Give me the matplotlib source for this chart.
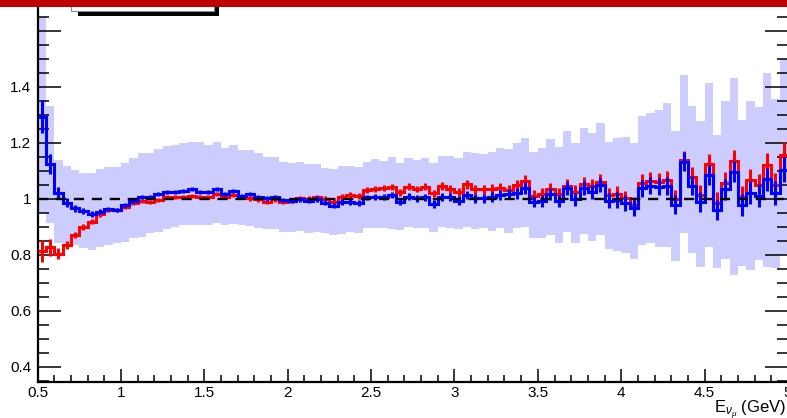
import matplotlib
matplotlib.use('Agg')
import numpy as np
import matplotlib.pyplot as plt
from matplotlib.patches import Rectangle
from matplotlib.ticker import MultipleLocator

plt.rcParams['font.family'] = ['Liberation Sans', 'DejaVu Sans']
plt.rcParams['mathtext.fontset'] = 'custom'
plt.rcParams['mathtext.rm'] = 'Liberation Sans'
plt.rcParams['mathtext.it'] = 'Liberation Sans:italic'

# Binning: 0.05 GeV bins from 0.5 to 5 GeV
e_min = 0.5
e_max = 5.0
n_bins = 90

# Ratio, red histogram
ratio_red = [0.815, 0.828, 0.805, 0.836, 0.871, 0.901, 0.919, 0.946, 0.960, 0.960,
             0.973, 0.985, 0.992, 0.990, 0.996, 1.006, 1.006, 1.008, 1.011, 1.008,
             1.008, 1.017, 1.006, 1.013, 1.006, 1.002, 0.999, 0.990, 0.999, 0.990,
             0.994, 1.002, 1.000, 1.006, 1.000, 0.990, 1.008, 1.014, 1.011, 1.032,
             1.036, 1.040, 1.042, 1.024, 1.044, 1.036, 1.044, 1.020, 1.046, 1.035,
             1.026, 1.052, 1.035, 1.035, 1.036, 1.040, 1.032, 1.050, 1.065, 1.011,
             1.017, 1.035, 1.018, 1.048, 1.026, 1.054, 1.046, 1.062, 1.014, 1.018,
             1.002, 0.979, 1.058, 1.065, 1.062, 1.068, 1.000, 1.139, 1.080, 1.014,
             1.125, 0.987, 1.058, 1.137, 1.008, 1.068, 1.050, 1.121, 1.050, 1.157]

# Ratio, blue histogram
ratio_blue = [1.294, 1.125, 1.023, 0.987, 0.967, 0.957, 0.946, 0.955, 0.965, 0.961,
              0.979, 0.994, 1.006, 1.008, 1.018, 1.026, 1.024, 1.029, 1.035, 1.026,
              1.024, 1.036, 1.017, 1.029, 1.012, 1.017, 1.008, 1.002, 1.008, 0.996,
              0.993, 0.999, 0.994, 1.000, 0.987, 0.976, 0.990, 0.990, 0.985, 1.006,
              1.008, 1.008, 1.014, 0.990, 1.008, 1.002, 1.006, 0.982, 1.008, 1.006,
              0.994, 1.014, 1.002, 1.002, 1.008, 1.014, 1.018, 1.020, 1.039, 0.990,
              0.994, 1.018, 0.994, 1.038, 0.999, 1.038, 1.026, 1.050, 0.994, 0.996,
              0.985, 0.967, 1.038, 1.048, 1.044, 1.048, 0.980, 1.133, 1.048, 0.990,
              1.086, 0.961, 1.035, 1.098, 0.979, 1.023, 1.011, 1.070, 1.023, 1.104]

# Statistical errors
err_red = [0.040, 0.030, 0.020, 0.015, 0.012, 0.010, 0.010, 0.009, 0.008, 0.008,
           0.008, 0.007, 0.007, 0.007, 0.007, 0.007, 0.007, 0.007, 0.007, 0.007,
           0.007, 0.007, 0.007, 0.007, 0.007, 0.008, 0.008, 0.008, 0.008, 0.008,
           0.008, 0.008, 0.009, 0.009, 0.009, 0.009, 0.010, 0.010, 0.010, 0.010,
           0.011, 0.011, 0.011, 0.012, 0.012, 0.012, 0.013, 0.013, 0.014, 0.014,
           0.015, 0.015, 0.016, 0.016, 0.017, 0.018, 0.018, 0.019, 0.020, 0.020,
           0.021, 0.022, 0.022, 0.023, 0.024, 0.025, 0.025, 0.026, 0.027, 0.028,
           0.028, 0.029, 0.030, 0.030, 0.031, 0.032, 0.033, 0.034, 0.034, 0.035,
           0.036, 0.037, 0.038, 0.038, 0.039, 0.040, 0.041, 0.042, 0.043, 0.045]

err_blue = [0.058, 0.035, 0.020, 0.015, 0.012, 0.010, 0.010, 0.009, 0.008, 0.008,
            0.008, 0.007, 0.007, 0.007, 0.007, 0.007, 0.007, 0.007, 0.007, 0.007,
            0.007, 0.007, 0.007, 0.007, 0.007, 0.008, 0.008, 0.008, 0.008, 0.008,
            0.008, 0.008, 0.009, 0.009, 0.009, 0.009, 0.010, 0.010, 0.010, 0.010,
            0.011, 0.011, 0.011, 0.012, 0.012, 0.012, 0.013, 0.013, 0.014, 0.014,
            0.015, 0.015, 0.016, 0.016, 0.017, 0.018, 0.018, 0.019, 0.020, 0.020,
            0.021, 0.022, 0.022, 0.023, 0.024, 0.025, 0.025, 0.026, 0.027, 0.028,
            0.028, 0.029, 0.030, 0.030, 0.031, 0.032, 0.033, 0.034, 0.034, 0.035,
            0.036, 0.037, 0.038, 0.038, 0.039, 0.040, 0.041, 0.042, 0.043, 0.045]

# Systematic error band
band_up = [1.650, 1.332, 1.139, 1.118, 1.104, 1.092, 1.092, 1.106, 1.115, 1.115,
           1.130, 1.145, 1.163, 1.165, 1.177, 1.189, 1.193, 1.199, 1.202, 1.202,
           1.193, 1.205, 1.183, 1.193, 1.175, 1.175, 1.165, 1.149, 1.149, 1.133,
           1.130, 1.133, 1.125, 1.125, 1.110, 1.106, 1.118, 1.118, 1.113, 1.133,
           1.142, 1.137, 1.149, 1.127, 1.145, 1.139, 1.145, 1.127, 1.154, 1.154,
           1.145, 1.169, 1.165, 1.161, 1.169, 1.181, 1.177, 1.201, 1.217, 1.169,
           1.181, 1.213, 1.187, 1.244, 1.199, 1.252, 1.237, 1.273, 1.205, 1.217,
           1.220, 1.201, 1.296, 1.306, 1.318, 1.342, 1.244, 1.443, 1.332, 1.280,
           1.413, 1.229, 1.350, 1.431, 1.282, 1.351, 1.327, 1.449, 1.356, 1.499]

band_low = [0.950, 0.913, 0.842, 0.836, 0.836, 0.824, 0.818, 0.827, 0.836, 0.842,
            0.848, 0.860, 0.865, 0.877, 0.883, 0.892, 0.901, 0.907, 0.907, 0.907,
            0.907, 0.913, 0.907, 0.910, 0.906, 0.905, 0.898, 0.892, 0.893, 0.883,
            0.883, 0.886, 0.880, 0.883, 0.877, 0.871, 0.875, 0.883, 0.880, 0.895,
            0.898, 0.895, 0.893, 0.889, 0.901, 0.895, 0.895, 0.881, 0.899, 0.895,
            0.892, 0.901, 0.892, 0.895, 0.887, 0.895, 0.877, 0.895, 0.899, 0.860,
            0.860, 0.871, 0.844, 0.883, 0.844, 0.875, 0.850, 0.871, 0.820, 0.814,
            0.806, 0.786, 0.837, 0.842, 0.830, 0.830, 0.780, 0.877, 0.806, 0.758,
            0.830, 0.752, 0.785, 0.729, 0.761, 0.746, 0.782, 0.758, 0.752, 0.800]

x_ticks = [0.5, 1, 1.5, 2, 2.5, 3, 3.5, 4, 4.5, 5]
x_tick_labels = ['0.5', '1', '1.5', '2', '2.5', '3', '3.5', '4', '4.5', '5']
y_ticks = [0.4, 0.6, 0.8, 1.0, 1.2, 1.4, 1.6]
y_tick_labels = ['0.4', '0.6', '0.8', '1', '1.2', '1.4', '']


def draw_ratio():
    W, H = 787, 418
    fig = plt.figure(figsize=(W / 100, H / 100), dpi=100)

    # pad frame runs past the top and right edges of the canvas
    ax = fig.add_axes([37.5 / W, 35.9 / H, 750.5 / W, 393.1 / H])
    ax.set_xlim(e_min, e_max)
    ax.set_ylim(0.346, 1.75)

    edges = np.linspace(e_min, e_max, n_bins + 1)
    centers = 0.5 * (edges[:-1] + edges[1:])

    # error band
    ax.stairs(band_up, edges, baseline=band_low, fill=True,
              color='#ccccff', lw=0, zorder=1)

    # histograms with error bars
    ax.stairs(ratio_red, edges, baseline=None, color='#ff0000', lw=2.2, zorder=3)
    ax.errorbar(centers, ratio_red, yerr=err_red, fmt='none',
                ecolor='#ff0000', elinewidth=2.2, capsize=0, zorder=3)
    ax.stairs(ratio_blue, edges, baseline=None, color='#0000ff', lw=2.2, zorder=4)
    ax.errorbar(centers, ratio_blue, yerr=err_blue, fmt='none',
                ecolor='#0000ff', elinewidth=2.2, capsize=0, zorder=4)

    # unity line
    ax.plot([e_min, e_max], [1, 1], color='black', lw=1.7,
            linestyle=(0, (4.3, 3.3)), zorder=5)

    ax.set_xticks(x_ticks)
    ax.set_xticklabels(x_tick_labels)
    ax.set_yticks(y_ticks)
    ax.set_yticklabels(y_tick_labels)
    ax.xaxis.set_minor_locator(MultipleLocator(0.1))
    ax.yaxis.set_minor_locator(MultipleLocator(0.05))

    ax.tick_params(axis='both', which='both', direction='in', width=1.1,
                   labelsize=11, colors='black')
    ax.tick_params(axis='x', which='major', length=9.5, pad=3, top=False)
    ax.tick_params(axis='x', which='minor', length=5, top=False)
    ax.tick_params(axis='y', which='major', length=16.5, pad=4.5, right=True)
    ax.tick_params(axis='y', which='minor', length=8, right=True)

    for side in ['left', 'bottom', 'top']:
        ax.spines[side].set_linewidth(1.6)
    ax.spines['right'].set_visible(False)

    # axis title, ROOT style at the right end
    fig.text(786 / W, 5 / H, r'E$_{\nu_{\mu}}$ (GeV)', ha='right',
             va='baseline', fontsize=12)

    # bottom of the legend box from the upper pad
    fig.patches.append(Rectangle((78 / W, (H - 15.5) / H), 141 / W, 20 / H,
                                 transform=fig.transFigure, facecolor='black',
                                 edgecolor='none', zorder=5))
    fig.patches.append(Rectangle((70.5 / W, (H - 10.5) / H), 144 / W, 20 / H,
                                 transform=fig.transFigure, facecolor='white',
                                 edgecolor='#888888', lw=0.8, zorder=6))

    # red strip along the top of the canvas
    fig.patches.append(Rectangle((0, (H - 6.5) / H), 1, 6.5 / H,
                                 transform=fig.transFigure, facecolor='#c00000',
                                 edgecolor='none', zorder=7))

    fig.savefig('out.png', dpi=100)
    plt.close(fig)


if __name__ == "__main__":
    draw_ratio()
